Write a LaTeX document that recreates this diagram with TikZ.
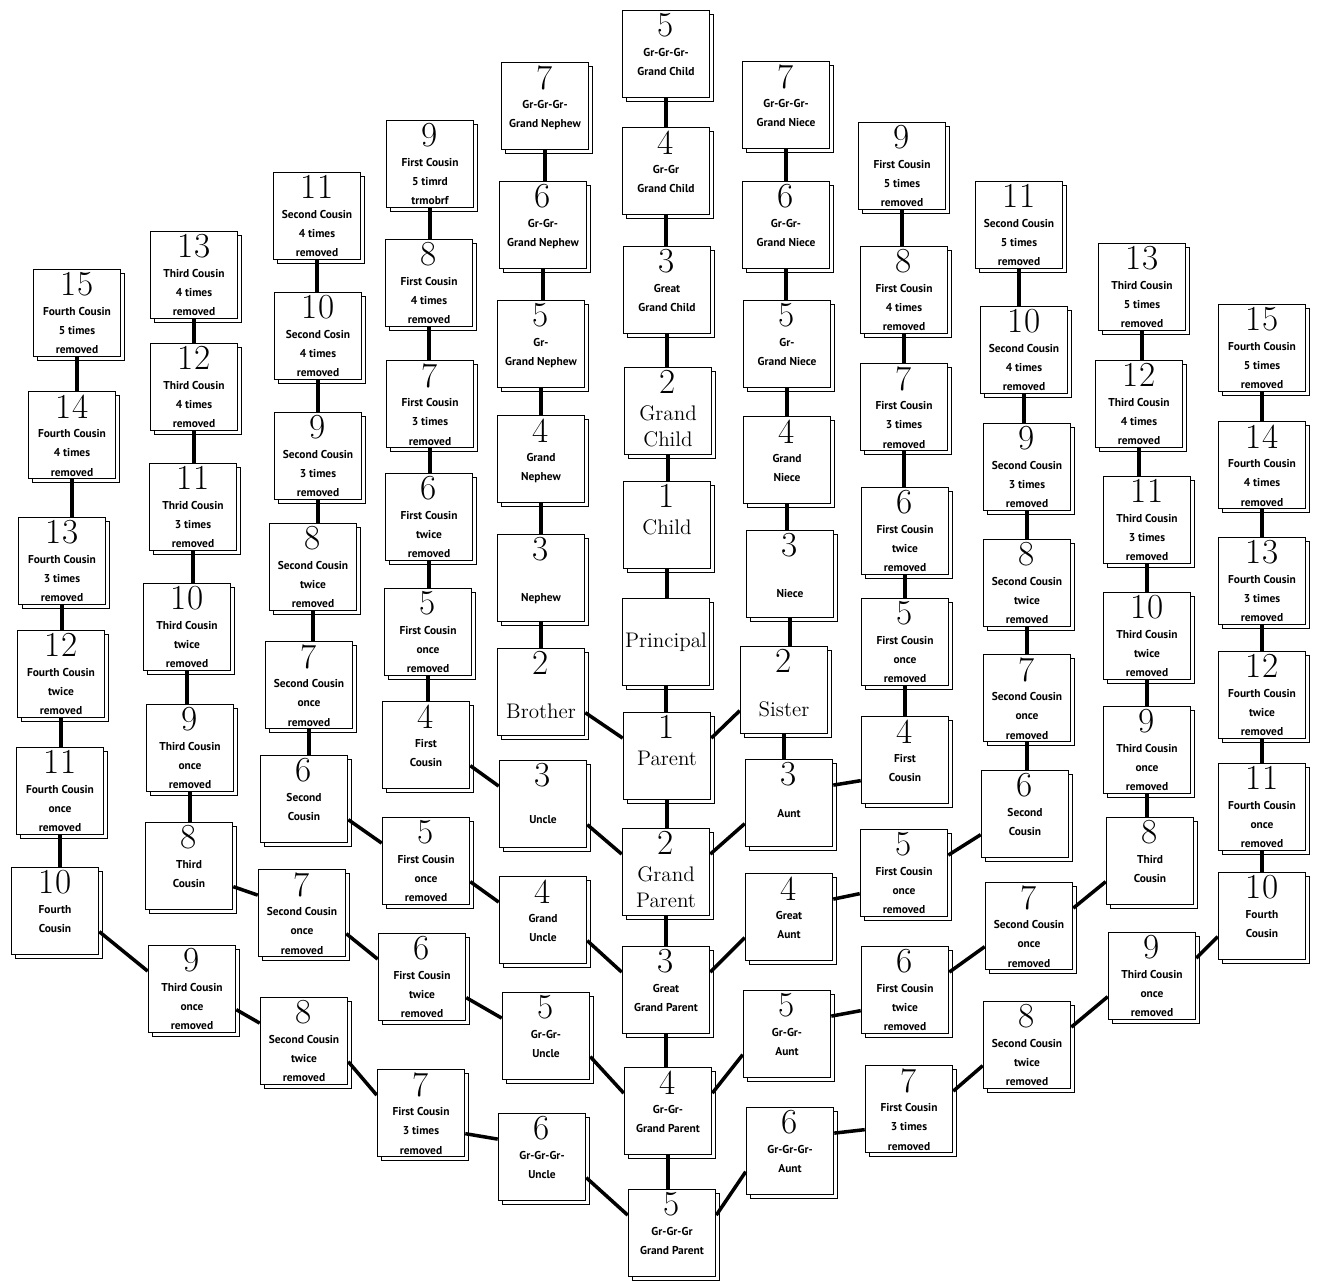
\documentclass[tikz,border=0pt]{standalone}
\usepackage{fontspec}
\newfontfamily\kinsans{PT Sans}
\usetikzlibrary{shadows}
\tikzset{
  kin/.style  ={draw,line width=0.9pt,fill=white,minimum size=1.74cm,inner sep=0pt,
                copy shadow={shadow xshift=0.08cm,shadow yshift=-0.08cm}},
  link/.style ={line width=2pt},
}
\newcommand\numf{\fontsize{20}{20}\selectfont}
\newcommand\smf{\fontsize{6.5}{11}\selectfont\kinsans\bfseries}
\newcommand\bigf{\fontsize{12}{15}\selectfont}
% number on top, label below it
\newcommand\kbox[3][0pt]{\parbox[t][1.62cm][t]{1.7cm}{\centering\numf #2\par\vspace{#1}\smf #3\par}}
\newcommand\kbig[3][0pt]{\parbox[t][1.62cm][t]{1.7cm}{\centering\numf #2\par\vspace{#1}\bigf #3\par}}

\begin{document}
\begin{tikzpicture}[x=0.02cm,y=-0.02cm]
  \useasboundingbox (0,0) rectangle (1322,1282);

  % principal line
  \node[kin] (gc5) at (666,54)   {\kbox{5}{Gr-Gr-Gr-\\Grand Child}};
  \node[kin] (gc4) at (666,171)  {\kbox{4}{Gr-Gr\\Grand Child}};
  \node[kin] (gc3) at (667,290)  {\kbox{3}{Great\\Grand Child}};
  \node[kin] (gc2) at (668,411)  {\kbig{2}{Grand\\Child}};
  \node[kin] (gc1) at (667,525)  {\kbig{1}{Child}};
  \node[kin] (pri) at (666,642)  {\bigf Principal};
  \node[kin] (pa1) at (667,756)  {\kbig{1}{Parent}};
  \node[kin] (pa2) at (666,872)  {\kbig{2}{Grand\\Parent}};
  \node[kin] (pa3) at (666,990)  {\kbox{3}{Great\\Grand Parent}};
  \node[kin] (pa4) at (668,1111) {\kbox{4}{Gr-Gr-\\Grand Parent}};
  \node[kin] (pa5) at (672,1233) {\kbox{5}{Gr-Gr-Gr\\Grand Parent}};

  % brother, nephews, uncles
  \node[kin] (ne7) at (545,106)  {\kbox{7}{Gr-Gr-Gr-\\Grand Nephew}};
  \node[kin] (ne6) at (543,225)  {\kbox{6}{Gr-Gr-\\Grand Nephew}};
  \node[kin] (ne5) at (541,344)  {\kbox{5}{Gr-\\Grand Nephew}};
  \node[kin] (ne4) at (541,459)  {\kbox{4}{Grand\\Nephew}};
  \node[kin] (ne3) at (541,578)  {\kbox[12pt]{3}{Nephew}};
  \node[kin] (bro) at (541,692)  {\kbig[10pt]{2}{Brother}};
  \node[kin] (un3) at (543,804)  {\kbox[10pt]{3}{Uncle}};
  \node[kin] (un4) at (543,920)  {\kbox{4}{Grand\\Uncle}};
  \node[kin] (un5) at (546,1036) {\kbox{5}{Gr-Gr-\\Uncle}};
  \node[kin] (un6) at (542,1157) {\kbox{6}{Gr-Gr-Gr-\\Uncle}};

  % first cousins, left
  \node[kin] (fl9) at (430,164)  {\kbox{9}{First Cousin\\5 timrd\\trmobrf}};
  \node[kin] (fl8) at (429,283)  {\kbox{8}{First Cousin\\4 times\\removed}};
  \node[kin] (fl7) at (430,404)  {\kbox{7}{First Cousin\\3 times\\removed}};
  \node[kin] (fl6) at (429,517)  {\kbox{6}{First Cousin\\twice\\removed}};
  \node[kin] (fl5) at (428,632)  {\kbox{5}{First Cousin\\once\\removed}};
  \node[kin] (fl4) at (426,745)  {\kbox{4}{First\\Cousin}};
  \node[kin] (fl5b) at (426,861) {\kbox{5}{First Cousin\\once\\removed}};
  \node[kin] (fl6b) at (422,977) {\kbox{6}{First Cousin\\twice\\removed}};
  \node[kin] (fl7b) at (421,1113) {\kbox{7}{First Cousin\\3 times\\removed}};

  % second cousins, left
  \node[kin] (sl11) at (317,216) {\kbox{11}{Second Cousin\\4 times\\removed}};
  \node[kin] (sl10) at (318,336) {\kbox{10}{Second Cosin\\4 times\\removed}};
  \node[kin] (sl9) at (318,456)  {\kbox{9}{Second Cousin\\3 times\\removed}};
  \node[kin] (sl8) at (313,567)  {\kbox{8}{Second Cousin\\twice\\removed}};
  \node[kin] (sl7) at (309,685)  {\kbox{7}{Second Cousin\\once\\removed}};
  \node[kin] (sl6) at (304,799)  {\kbox{6}{Second\\Cousin}};
  \node[kin] (sl7b) at (302,913) {\kbox{7}{Second Cousin\\once\\removed}};
  \node[kin] (sl8b) at (304,1041) {\kbox{8}{Second Cousin\\twice\\removed}};

  % third cousins, left
  \node[kin] (tl13) at (194,275) {\kbox{13}{Third Cousin\\4 times\\removed}};
  \node[kin] (tl12) at (194,387) {\kbox{12}{Third Cousin\\4 times\\removed}};
  \node[kin] (tl11) at (193,507) {\kbox{11}{Thrid Cousin\\3 times\\removed}};
  \node[kin] (tl10) at (187,627) {\kbox{10}{Third Cousin\\twice\\removed}};
  \node[kin] (tl9) at (190,748)  {\kbox{9}{Third Cousin\\once\\removed}};
  \node[kin] (tl8) at (189,866)  {\kbox{8}{Third\\Cousin}};
  \node[kin] (tl9b) at (192,989) {\kbox{9}{Third Cousin\\once\\removed}};

  % fourth cousins, left
  \node[kin] (ol15) at (77,313)  {\kbox{15}{Fourth Cousin\\5 times\\removed}};
  \node[kin] (ol14) at (72,435)  {\kbox{14}{Fourth Cousin\\4 times\\removed}};
  \node[kin] (ol13) at (62,561)  {\kbox{13}{Fourth Cousin\\3 times\\removed}};
  \node[kin] (ol12) at (61,674)  {\kbox{12}{Fourth Cousin\\twice\\removed}};
  \node[kin] (ol11) at (60,791)  {\kbox{11}{Fourth Cousin\\once\\removed}};
  \node[kin] (ol10) at (55,911)  {\kbox{10}{Fourth\\Cousin}};

  % sister, nieces, aunts
  \node[kin] (ni7) at (786,105)  {\kbox{7}{Gr-Gr-Gr-\\Grand Niece}};
  \node[kin] (ni6) at (786,225)  {\kbox{6}{Gr-Gr-\\Grand Niece}};
  \node[kin] (ni5) at (787,344)  {\kbox{5}{Gr-\\Grand Niece}};
  \node[kin] (ni4) at (787,460)  {\kbox{4}{Grand\\Niece}};
  \node[kin] (ni3) at (790,574)  {\kbox[12pt]{3}{Niece}};
  \node[kin] (sis) at (784,690)  {\kbig[10pt]{2}{Sister}};
  \node[kin] (au3) at (789,803)  {\kbox[7pt]{3}{Aunt}};
  \node[kin] (au4) at (789,917)  {\kbox{4}{Great\\Aunt}};
  \node[kin] (au5) at (787,1034) {\kbox{5}{Gr-Gr-\\Aunt}};
  \node[kin] (au6) at (790,1151) {\kbox{6}{Gr-Gr-Gr-\\Aunt}};

  % first cousins, right
  \node[kin] (fr9) at (902,166)  {\kbox{9}{First Cousin\\5 times\\removed}};
  \node[kin] (fr8) at (904,290)  {\kbox{8}{First Cousin\\4 times\\removed}};
  \node[kin] (fr7) at (904,407)  {\kbox{7}{First Cousin\\3 times\\removed}};
  \node[kin] (fr6) at (905,531)  {\kbox{6}{First Cousin\\twice\\removed}};
  \node[kin] (fr5) at (905,642)  {\kbox{5}{First Cousin\\once\\removed}};
  \node[kin] (fr4) at (905,760)  {\kbox{4}{First\\Cousin}};
  \node[kin] (fr5b) at (904,873) {\kbox{5}{First Cousin\\once\\removed}};
  \node[kin] (fr6b) at (905,990) {\kbox{6}{First Cousin\\twice\\removed}};
  \node[kin] (fr7b) at (909,1109) {\kbox{7}{First Cousin\\3 times\\removed}};

  % second cousins, right
  \node[kin] (sr11) at (1019,225) {\kbox{11}{Second Cousin\\5 times\\removed}};
  \node[kin] (sr10) at (1024,350) {\kbox{10}{Second Cousin\\4 times\\removed}};
  \node[kin] (sr9) at (1027,467)  {\kbox{9}{Second Cousin\\3 times\\removed}};
  \node[kin] (sr8) at (1027,583)  {\kbox{8}{Second Cousin\\twice\\removed}};
  \node[kin] (sr7) at (1027,698)  {\kbox{7}{Second Cousin\\once\\removed}};
  \node[kin] (sr6) at (1025,814)  {\kbox{6}{Second\\Cousin}};
  \node[kin] (sr7b) at (1029,926) {\kbox{7}{Second Cousin\\once\\removed}};
  \node[kin] (sr8b) at (1027,1045) {\kbox{8}{Second Cousin\\twice\\removed}};

  % third cousins, right
  \node[kin] (tr13) at (1142,287) {\kbox{13}{Third Cousin\\5 times\\removed}};
  \node[kin] (tr12) at (1139,404) {\kbox{12}{Third Cousin\\4 times\\removed}};
  \node[kin] (tr11) at (1147,520) {\kbox{11}{Third Cousin\\3 times\\removed}};
  \node[kin] (tr10) at (1147,636) {\kbox{10}{Third Cousin\\twice\\removed}};
  \node[kin] (tr9) at (1147,750)  {\kbox{9}{Third Cousin\\once\\removed}};
  \node[kin] (tr8) at (1150,861)  {\kbox{8}{Third\\Cousin}};
  \node[kin] (tr9b) at (1152,976) {\kbox{9}{Third Cousin\\once\\removed}};

  % fourth cousins, right
  \node[kin] (or15) at (1262,348) {\kbox{15}{Fourth Cousin\\5 times\\removed}};
  \node[kin] (or14) at (1262,465) {\kbox{14}{Fourth Cousin\\4 times\\removed}};
  \node[kin] (or13) at (1262,581) {\kbox{13}{Fourth Cousin\\3 times\\removed}};
  \node[kin] (or12) at (1262,695) {\kbox{12}{Fourth Cousin\\twice\\removed}};
  \node[kin] (or11) at (1262,807) {\kbox{11}{Fourth Cousin\\once\\removed}};
  \node[kin] (or10) at (1262,916) {\kbox{10}{Fourth\\Cousin}};

  % straight lines of descent
  \foreach \a/\b in {gc5/gc4,gc4/gc3,gc3/gc2,gc2/gc1,gc1/pri,pri/pa1,pa1/pa2,pa2/pa3,pa3/pa4,pa4/pa5,
                     ne7/ne6,ne6/ne5,ne5/ne4,ne4/ne3,ne3/bro,
                     ni7/ni6,ni6/ni5,ni5/ni4,ni4/ni3,ni3/sis,sis/au3,
                     fl9/fl8,fl8/fl7,fl7/fl6,fl6/fl5,fl5/fl4,
                     sl11/sl10,sl10/sl9,sl9/sl8,sl8/sl7,sl7/sl6,
                     tl13/tl12,tl12/tl11,tl11/tl10,tl10/tl9,tl9/tl8,
                     ol15/ol14,ol14/ol13,ol13/ol12,ol12/ol11,ol11/ol10,
                     fr9/fr8,fr8/fr7,fr7/fr6,fr6/fr5,fr5/fr4,
                     sr11/sr10,sr10/sr9,sr9/sr8,sr8/sr7,sr7/sr6,
                     tr13/tr12,tr12/tr11,tr11/tr10,tr10/tr9,tr9/tr8,
                     or15/or14,or14/or13,or13/or12,or12/or11,or11/or10}
    \draw[link] (\a.south) -- (\a.south |- \b.north);

  % collateral lines, left
  \foreach \a/\b in {bro/pa1,un3/pa2,un4/pa3,un5/pa4,un6/pa5,
                     fl4/un3,fl5b/un4,fl6b/un5,fl7b/un6,
                     sl6/fl5b,sl7b/fl6b,sl8b/fl7b,
                     tl8/sl7b,tl9b/sl8b,ol10/tl9b}
    \draw[link] (\a.-25) -- (\b.158);

  % collateral lines, right
  \foreach \a/\b in {pa1/sis,pa2/au3,pa3/au4,pa4/au5,pa5/au6,
                     au3/fr4,au4/fr5b,au5/fr6b,au6/fr7b,
                     fr5b/sr6,fr6b/sr7b,fr7b/sr8b,
                     sr7b/tr8,sr8b/tr9b,tr9b/or10}
    \draw[link] (\a.22) -- (\b.205);
\end{tikzpicture}
\end{document}
